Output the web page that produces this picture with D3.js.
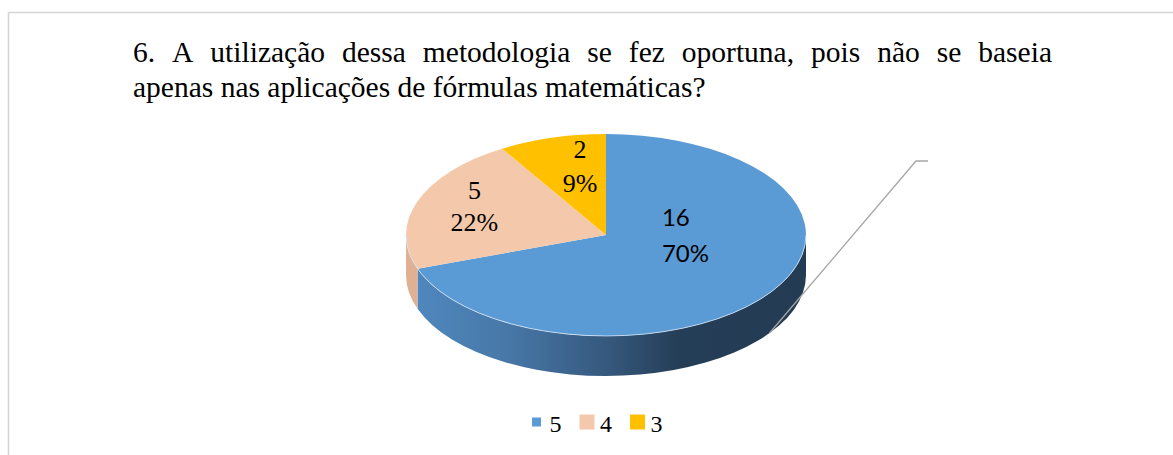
<!DOCTYPE html>
<html>
<head>
<meta charset="utf-8">
<script src="https://cdn.jsdelivr.net/npm/d3@7"></script>
<style>
  text.serif { font-family: "Liberation Serif", "Times New Roman", Times, "DejaVu Serif", serif; }
  text.sans { font-family: Lato, "Liberation Sans", Arial, sans-serif; }
</style>
</head>
<body style="margin:0">
<script>
// data
var categories = ["5", "4", "3"];
var counts = [16, 5, 2];
var titleLines = [
  "6. A utilização dessa metodologia se fez oportuna, pois não se baseia",
  "apenas nas aplicações de fórmulas matemáticas?"
];
var topColors = ["#5b9bd5", "#f4c8aa", "#ffc000"];
var sideColors = ["url(#blueSide)", "#dfb092", "#d9a400"];

var chartW = 1173, chartH = 455;
var cx = 606, cy = 235, rx = 200, ry = 101, depth = 40;

var svg = d3.select("body").append("svg").attr("width", chartW).attr("height", chartH);

// frame of the original picture (only top and left edges visible)
svg.append("line").attr("x1", 8.5).attr("x2", chartW).attr("y1", 12.5).attr("y2", 12.5)
  .attr("stroke", "#d4d4d4").attr("stroke-width", 1.5);
svg.append("line").attr("x1", 8.5).attr("x2", 8.5).attr("y1", 12.5).attr("y2", chartH)
  .attr("stroke", "#d4d4d4").attr("stroke-width", 1.5);

// gradient for the blue side wall
var grad = svg.append("defs").append("linearGradient").attr("id", "blueSide")
  .attr("gradientUnits", "userSpaceOnUse")
  .attr("x1", cx - rx).attr("x2", cx + rx).attr("y1", 0).attr("y2", 0);
grad.append("stop").attr("offset", 0).attr("stop-color", "#5089c0");
grad.append("stop").attr("offset", 0.25).attr("stop-color", "#4778a8");
grad.append("stop").attr("offset", 0.5).attr("stop-color", "#36597e");
grad.append("stop").attr("offset", 0.68).attr("stop-color", "#253e57");
grad.append("stop").attr("offset", 1).attr("stop-color", "#233b53");

// title, first line justified word by word
var titleLeft = 133, titleRight = 1052, titleSize = 29.5;
var words = titleLines[0].split(" ");
var line1 = svg.append("text").attr("class", "serif").attr("y", 62).attr("font-size", titleSize);
var tsp = line1.selectAll("tspan").data(words).enter().append("tspan").text(function (d) { return d; });
var wordW = [];
tsp.each(function () { wordW.push(this.getComputedTextLength()); });
var gap = (titleRight - titleLeft - d3.sum(wordW)) / (words.length - 1);
var xPos = titleLeft;
tsp.attr("x", function (d, i) { var v = xPos; xPos += wordW[i] + gap; return v; });
svg.append("text").attr("class", "serif").attr("x", titleLeft).attr("y", 97)
  .attr("font-size", titleSize).text(titleLines[1]);

// pie layout
var pie = d3.pie().sort(null).value(function (d) { return d; });
var arcs = pie(counts);
var total = d3.sum(counts);

function pt(a, dy) {
  return [cx + rx * Math.sin(a), cy - ry * Math.cos(a) + (dy || 0)];
}
function topPath(d) {
  var p0 = pt(d.startAngle), p1 = pt(d.endAngle);
  var large = (d.endAngle - d.startAngle) > Math.PI ? 1 : 0;
  return "M" + cx + "," + cy + "L" + p0 + "A" + rx + "," + ry + " 0 " + large + " 1 " + p1 + "Z";
}
function sidePath(d) {
  var s = Math.max(d.startAngle, Math.PI / 2), e = Math.min(d.endAngle, 3 * Math.PI / 2);
  if (s >= e) return null;
  return "M" + pt(s) + "A" + rx + "," + ry + " 0 0 1 " + pt(e) +
    "L" + pt(e, depth) + "A" + rx + "," + ry + " 0 0 0 " + pt(s, depth) + "Z";
}

var pieG = svg.append("g");
pieG.selectAll("path.side").data(arcs.filter(function (d) { return sidePath(d) !== null; }))
  .enter().append("path").attr("class", "side")
  .attr("d", sidePath)
  .attr("fill", function (d) { return sideColors[d.index]; });

pieG.selectAll("path.top").data(arcs).enter().append("path").attr("class", "top")
  .attr("d", topPath)
  .attr("fill", function (d) { return topColors[d.index]; });

// light rim between top face and side wall
pieG.append("path")
  .attr("d", "M" + pt(Math.PI / 2) + "A" + rx + "," + ry + " 0 0 1 " + pt(3 * Math.PI / 2))
  .attr("fill", "none").attr("stroke", "#d6e4f2").attr("stroke-width", 1).attr("opacity", 0.8);

// leader line (starts at the blue slice's mid angle on the lower rim)
var blueMid = (arcs[0].startAngle + arcs[0].endAngle) / 2;
var lStart = pt(blueMid, depth);
var elbow = [916, 161];
svg.append("polyline")
  .attr("points", [lStart, elbow, [elbow[0] + 12, elbow[1]]].map(function (p) { return p.join(","); }).join(" "))
  .attr("fill", "none").attr("stroke", "#a6a6a6").attr("stroke-width", 1.3);

// data labels
var labelLayout = [
  { fx: 0.3425, fy: 0.155, anchor: "start", cls: "sans", size: 24, lead: 36 },
  { fx: 0.698, fy: 0.606, anchor: "middle", cls: "serif", size: 26, lead: 32 },
  { fx: 0.482, fy: 0.617, anchor: "middle", cls: "serif", size: 26, lead: 34 }
];
var pct = d3.format(".0%");
arcs.forEach(function (d) {
  var L = labelLayout[d.index];
  var mid = (d.startAngle + d.endAngle) / 2;
  var x = cx + rx * Math.sin(mid) * L.fx;
  var y = cy - ry * Math.cos(mid) * L.fy;
  var t = svg.append("text").attr("class", L.cls).attr("font-size", L.size)
    .attr("text-anchor", L.anchor).attr("fill", "#000");
  t.append("tspan").attr("x", x).attr("y", y - L.lead / 2).text(counts[d.index]);
  t.append("tspan").attr("x", x).attr("y", y + L.lead / 2).text(pct(counts[d.index] / total));
});

// legend
var legendG = svg.append("g");
var item = legendG.selectAll("g").data(categories).enter().append("g")
  .attr("transform", function (d, i) { return "translate(" + (536.5 + i * 50.5) + ",422)"; });
item.append("rect")
  .attr("x", function (d, i) { return i === 0 ? -4.5 : -7.5; })
  .attr("y", function (d, i) { return i === 0 ? -4.5 : -7.5; })
  .attr("width", function (d, i) { return i === 0 ? 9 : 15; })
  .attr("height", function (d, i) { return i === 0 ? 9 : 15; })
  .attr("fill", function (d, i) { return topColors[i]; });
item.append("text").attr("class", "serif").attr("x", 13).attr("y", 10)
  .attr("font-size", 24)
  .text(function (d) { return d; });
</script>
</body>
</html>
